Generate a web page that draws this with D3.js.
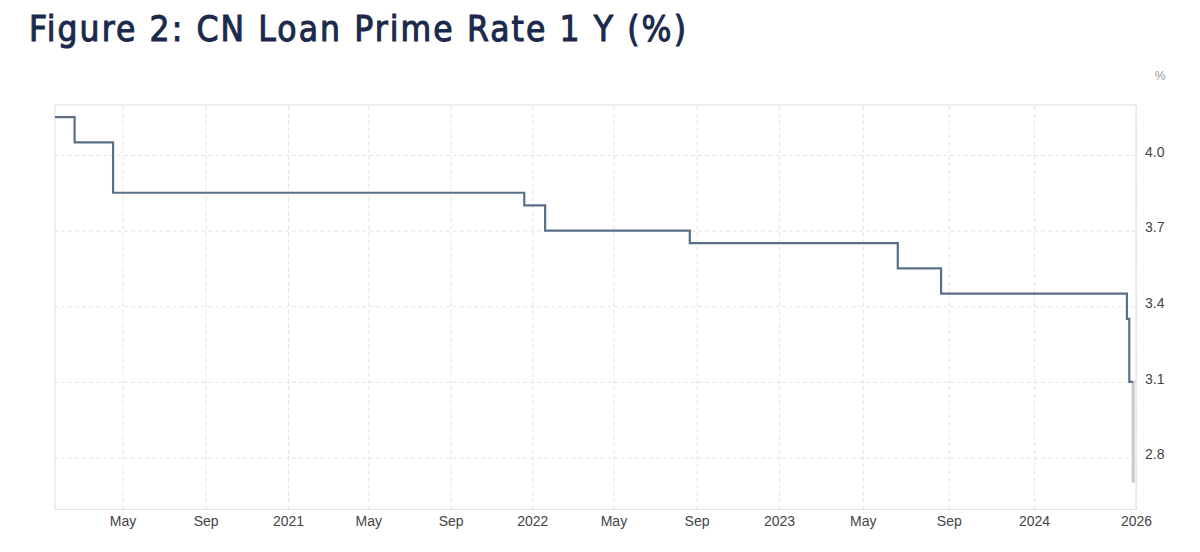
<!DOCTYPE html>
<html>
<head>
<meta charset="utf-8">
<script src="https://cdn.jsdelivr.net/npm/d3@7"></script>
<style>
  body { margin: 0; background: #fff; }
  svg { display: block; }
</style>
</head>
<body>
<svg id="chart" width="1200" height="552"></svg>
<script>
// step dates and levels of the 1Y LPR
const rateDates = ["2020-01-22", "2020-02-20", "2020-04-17", "2021-12-20", "2022-01-20",
                   "2022-08-22", "2023-06-20", "2023-08-21", "2025-10-28", "2025-11-14", "2025-12-11"];
const rateValues = [4.15, 4.05, 3.85, 3.80, 3.70, 3.65, 3.55, 3.45, 3.35, 3.10, 3.10];

// grey tail at the right end
const tailDates = ["2025-12-11", "2025-12-12"];
const tailValues = [3.10, 2.70];

const tickDates = ["2020-05-01", "2020-09-01", "2021-01-01", "2021-05-01", "2021-09-01", "2022-01-01",
                   "2022-05-01", "2022-09-01", "2023-01-01", "2023-05-01", "2023-09-01", "2024-01-01", "2026-01-01"];
const tickLabels = ["May", "Sep", "2021", "May", "Sep", "2022", "May", "Sep", "2023", "May", "Sep", "2024", "2026"];
const yTicks = [2.8, 3.1, 3.4, 3.7, 4.0];

const parse = d3.timeParse("%Y-%m-%d");
const rate = rateDates.map((d, i) => ({date: parse(d), value: rateValues[i]}));
const tail = tailDates.map((d, i) => ({date: parse(d), value: tailValues[i]}));

const svg = d3.select("#chart");
const plotL = 55, plotR = 1136, plotT = 105, plotB = 509.5;

// the source axis is not evenly spaced (years differ a little, and 2024-2026 is squeezed),
// so the time scale is pinned at each January
const x = d3.scaleTime()
    .domain(["2020-01-22", "2021-01-01", "2022-01-01", "2023-01-01", "2024-01-01", "2026-01-01"].map(parse))
    .range([plotL, 288, 532.3, 779, 1034, plotR]);
const y = d3.scaleLinear().domain([2.594, 4.198]).range([plotB, plotT]);

// semi-bold look: regular condensed face with a thin outline
svg.append("text")
    .attr("x", 29)
    .attr("y", 41)
    .attr("font-family", "'DejaVu Sans Condensed', 'DejaVu Sans', sans-serif")
    .attr("font-size", "35px")
    .attr("letter-spacing", "2.1px")
    .attr("fill", "#1b2a4c")
    .attr("stroke", "#1b2a4c")
    .attr("stroke-width", 1)
    .text("Figure 2: CN Loan Prime Rate 1 Y (%)");

// frame
svg.append("rect")
    .attr("x", plotL)
    .attr("y", plotT)
    .attr("width", plotR - plotL)
    .attr("height", plotB - plotT)
    .attr("fill", "none")
    .attr("stroke", "#e4e4e4")
    .attr("stroke-width", 1.2);

// dashed grid
const xGrid = svg.append("g")
    .attr("transform", `translate(0,${plotB})`)
    .call(d3.axisBottom(x).tickValues(tickDates.map(parse)).tickSize(-(plotB - plotT)).tickFormat(""));
xGrid.select(".domain").remove();
xGrid.selectAll("line").attr("stroke", "#e2e2e2").attr("stroke-dasharray", "4,3");

const yGrid = svg.append("g")
    .attr("transform", `translate(${plotR},0)`)
    .call(d3.axisLeft(y).tickValues(yTicks).tickSize(plotR - plotL).tickFormat(""));
yGrid.select(".domain").remove();
yGrid.selectAll("line").attr("stroke", "#e2e2e2").attr("stroke-dasharray", "4,3");

// labels
const xAxis = svg.append("g")
    .attr("transform", `translate(0,${plotB})`)
    .call(d3.axisBottom(x).tickValues(tickDates.map(parse)).tickSize(0).tickPadding(7)
        .tickFormat((d, i) => tickLabels[i]));
xAxis.select(".domain").remove();
xAxis.selectAll("text")
    .attr("font-family", "'Liberation Sans', Arial, sans-serif")
    .attr("font-size", "14px")
    .attr("fill", "#444");

const yAxis = svg.append("g")
    .attr("transform", `translate(${plotR},0)`)
    .call(d3.axisRight(y).tickValues(yTicks).tickSize(0).tickPadding(9).tickFormat(d3.format(".1f")));
yAxis.select(".domain").remove();
yAxis.selectAll("text")
    .attr("dy", "0.1em")
    .attr("font-family", "'Liberation Sans', Arial, sans-serif")
    .attr("font-size", "14px")
    .attr("fill", "#444");

svg.append("text")
    .attr("x", 1160)
    .attr("y", 80)
    .attr("text-anchor", "middle")
    .attr("font-family", "'Liberation Sans', Arial, sans-serif")
    .attr("font-size", "12px")
    .attr("fill", "#999")
    .text("%");

const line = d3.line()
    .x(d => x(d.date))
    .y(d => y(d.value))
    .curve(d3.curveStepAfter);

svg.append("path")
    .datum(tail)
    .attr("d", line)
    .attr("fill", "none")
    .attr("stroke", "#c9c9c9")
    .attr("stroke-width", 3);

svg.append("path")
    .datum(rate)
    .attr("d", line)
    .attr("fill", "none")
    .attr("stroke", "#5a7088")
    .attr("stroke-width", 2.2);
</script>
</body>
</html>
